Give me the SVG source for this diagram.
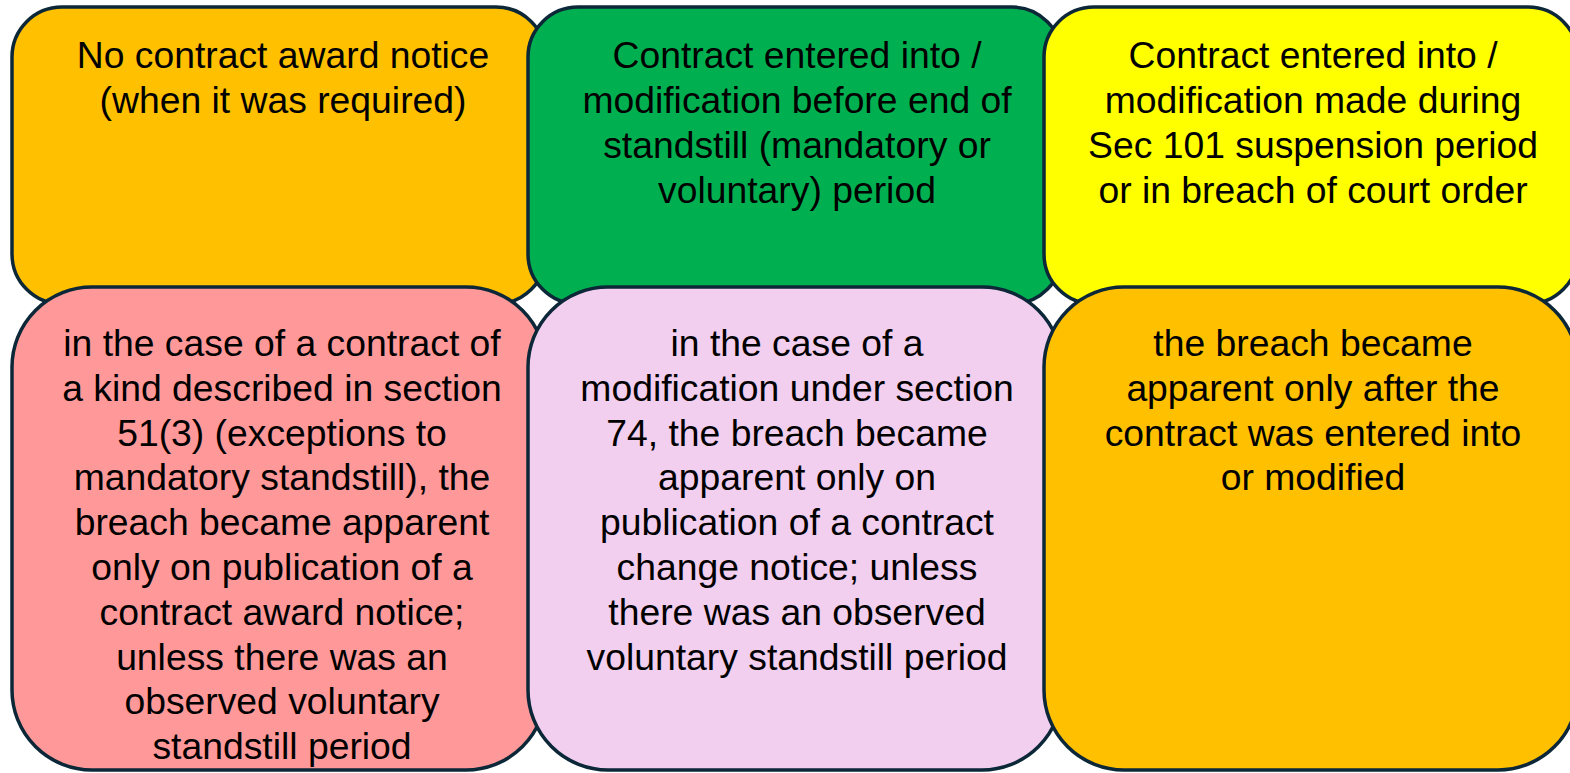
<svg xmlns="http://www.w3.org/2000/svg" width="1570" height="773" viewBox="0 0 1570 773">
<style>
.b{stroke:#0c2738;stroke-width:3.5}
.t{font-family:"Liberation Sans",Arial,sans-serif;font-size:37.3px;fill:#000;text-anchor:middle}
</style>
<rect width="1570" height="773" fill="#fff"/>
<g id="n1"><rect class="b" x="12" y="7" width="534" height="297" rx="50" fill="#FFC000"/>
<text class="t" x="283" y="68">No contract award notice</text>
<text class="t" x="283" y="113">(when it was required)</text></g>
<g id="n2"><rect class="b" x="528" y="7" width="534" height="297" rx="50" fill="#00B050"/>
<text class="t" x="797" y="68">Contract entered into /</text>
<text class="t" x="797" y="113">modification before end of</text>
<text class="t" x="797" y="158">standstill (mandatory or</text>
<text class="t" x="797" y="203">voluntary) period</text></g>
<g id="n3"><rect class="b" x="1044" y="7" width="534" height="297" rx="50" fill="#FFFF00"/>
<text class="t" x="1313" y="68">Contract entered into /</text>
<text class="t" x="1313" y="113">modification made during</text>
<text class="t" x="1313" y="158">Sec 101 suspension period</text>
<text class="t" x="1313" y="203">or in breach of court order</text></g>
<g id="n4"><rect class="b" x="12" y="287" width="534" height="483" rx="80" fill="#FF9999"/>
<text class="t" x="282" y="356">in the case of a contract of</text>
<text class="t" x="282" y="401">a kind described in section</text>
<text class="t" x="282" y="446">51(3) (exceptions to</text>
<text class="t" x="282" y="490">mandatory standstill), the</text>
<text class="t" x="282" y="535">breach became apparent</text>
<text class="t" x="282" y="580">only on publication of a</text>
<text class="t" x="282" y="625">contract award notice;</text>
<text class="t" x="282" y="670">unless there was an</text>
<text class="t" x="282" y="714">observed voluntary</text>
<text class="t" x="282" y="759">standstill period</text></g>
<g id="n5"><rect class="b" x="528" y="287" width="534" height="483" rx="80" fill="#F2CEEF"/>
<text class="t" x="797" y="356">in the case of a</text>
<text class="t" x="797" y="401">modification under section</text>
<text class="t" x="797" y="446">74, the breach became</text>
<text class="t" x="797" y="490">apparent only on</text>
<text class="t" x="797" y="535">publication of a contract</text>
<text class="t" x="797" y="580">change notice; unless</text>
<text class="t" x="797" y="625">there was an observed</text>
<text class="t" x="797" y="670">voluntary standstill period</text></g>
<g id="n6"><rect class="b" x="1044" y="287" width="534" height="483" rx="80" fill="#FFC000"/>
<text class="t" x="1313" y="356">the breach became</text>
<text class="t" x="1313" y="401">apparent only after the</text>
<text class="t" x="1313" y="446">contract was entered into</text>
<text class="t" x="1313" y="490">or modified</text></g>
<g id="connectors"/>
</svg>
